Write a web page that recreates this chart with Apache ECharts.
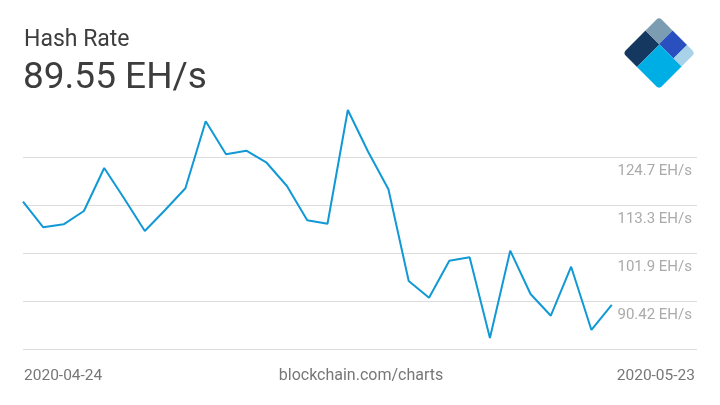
<!DOCTYPE html>
<html>
<head>
<meta charset="utf-8">
<script src="https://cdn.jsdelivr.net/npm/echarts@6/dist/echarts.min.js"></script>
<style>
html,body{margin:0;padding:0;background:#fff;}
#chart{width:720px;height:405px;}
</style>
</head>
<body>
<div id="chart"></div>
<script>
var chartTitle = 'Hash Rate';
var currentValue = '89.55 EH/s';
var sourceText = 'blockchain.com/charts';
var dates = ['2020-04-24','2020-04-25','2020-04-26','2020-04-27','2020-04-28','2020-04-29',
  '2020-04-30','2020-05-01','2020-05-02','2020-05-03','2020-05-04','2020-05-05','2020-05-06',
  '2020-05-07','2020-05-08','2020-05-09','2020-05-10','2020-05-11','2020-05-12','2020-05-13',
  '2020-05-14','2020-05-15','2020-05-16','2020-05-17','2020-05-18','2020-05-19','2020-05-20',
  '2020-05-21','2020-05-22','2020-05-23'];
var hashRate = [114.13,108.04,108.75,111.92,122.15,114.77,107.16,112.15,117.32,133.27,
  125.41,126.27,123.41,117.87,109.70,108.89,135.96,126.03,117.08,95.25,
  91.28,100.08,100.89,81.68,102.47,92.16,86.99,98.66,83.59,89.55];
var yTicks = [90.42, 101.9, 113.3, 124.7];
var yTickLabels = ['90.42 EH/s','101.9 EH/s','113.3 EH/s','124.7 EH/s'];
var xExtent = 33.2;

var yStep = (yTicks[yTicks.length-1] - yTicks[0]) / (yTicks.length - 1);
var yMin = yTicks[0] - yStep;
var yMax = yTicks[yTicks.length-1];

var chart = echarts.init(document.getElementById('chart'), null, {renderer:'canvas'});
var seriesData = hashRate.map(function(v,i){ return [i, v]; });

var S = 51;
var a = 31.8, b1 = 19.8, b2 = 39.6;
var option = {
  animation: false,
  backgroundColor: '#fff',
  grid: {left: 23, right: 23, top: 157.3, bottom: 55.7},
  xAxis: {type:'value', min:0, max:xExtent, show:false},
  yAxis: {
    type:'value', position:'right', min:yMin, max:yMax, interval:yStep,
    axisLine:{show:false}, axisTick:{show:false},
    splitLine:{show:true, lineStyle:{color:'#dddddd', width:1}},
    axisLabel:{
      inside:true, margin:5, showMinLabel:false,
      color:'#aaaaaa', fontFamily:'Roboto', fontSize:15,
      verticalAlign:'top', lineHeight:27,
      formatter:function(v){
        var best = 0, d = Infinity;
        for (var i=0;i<yTicks.length;i++){ var dd=Math.abs(yTicks[i]-v); if(dd<d){d=dd;best=i;} }
        return d < 0.5 ? yTickLabels[best] : '';
      }
    }
  },
  series: [{
    type:'line', data:seriesData, clip:false, symbol:'none', smooth:false,
    lineStyle:{color:'#1199d6', width:2}
  }],
  graphic: [
    {type:'text', x:24, y:40, style:{text:chartTitle, font:'23px Roboto', fill:'#3d3d3d', verticalAlign:'middle'}},
    {type:'text', x:23, y:79, style:{text:currentValue, font:'37px Roboto', fill:'#3d3d3d', verticalAlign:'middle'}},
    {type:'text', x:24, y:376, style:{text:dates[0], font:'15.5px Roboto', fill:'#777777', verticalAlign:'middle'}},
    {type:'text', x:361, y:376, style:{text:sourceText, font:'16px Roboto', fill:'#777777', verticalAlign:'middle', align:'center'}},
    {type:'text', x:695, y:376, style:{text:dates[dates.length-1], font:'15.5px Roboto', fill:'#777777', verticalAlign:'middle', align:'right'}},
    {type:'group', x:623, y:53, rotation:Math.PI/4, children:[
      {type:'rect', shape:{x:0,y:0,width:a,height:b1,r:[4,0,0,0]}, style:{fill:'#153861'}},
      {type:'rect', shape:{x:a,y:0,width:S-a,height:b1-0.7,r:[0,4,0,0]}, style:{fill:'#7b9cb1'}},
      {type:'rect', shape:{x:a,y:b1-0.7,width:S-a,height:b2-b1+0.7,r:0}, style:{fill:'#2a50bf'}},
      {type:'rect', shape:{x:a,y:b2,width:S-a,height:S-b2,r:[0,0,4,0]}, style:{fill:'#a8d2e8'}},
      {type:'rect', shape:{x:0,y:b1,width:a,height:S-b1,r:[0,0,0,4]}, style:{fill:'#00aee6'}}
    ]}
  ]
};
chart.setOption(option);
</script>
</body>
</html>
